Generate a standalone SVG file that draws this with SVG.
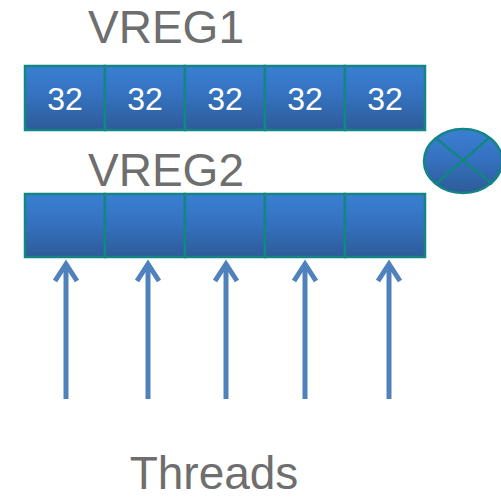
<svg xmlns="http://www.w3.org/2000/svg" width="501" height="499" viewBox="0 0 501 499">
<defs>
<linearGradient id="g" x1="0" y1="0" x2="0" y2="1">
<stop offset="0" stop-color="#3a7fd2"/>
<stop offset="0.45" stop-color="#3572c0"/>
<stop offset="1" stop-color="#2d5b98"/>
</linearGradient>
</defs>
<style>
.cell{fill:url(#g);stroke:#138584;stroke-width:2.5}
.lbl{font-family:"Liberation Sans",Arial,sans-serif;font-size:46px;fill:#6e6e6e;text-anchor:middle}
.num{font-family:"Liberation Sans",Arial,sans-serif;font-size:32px;fill:#ffffff;text-anchor:middle}
.arr{stroke:#4f81bd;stroke-width:5;fill:none}
.head{stroke:#4f81bd;stroke-width:5;fill:none;stroke-linejoin:miter}
</style>
<text class="lbl" x="166" y="43">VREG1</text>
<g id="vreg1">
<rect class="cell" x="25" y="66" width="80" height="64"/>
<rect class="cell" x="105" y="66" width="80" height="64"/>
<rect class="cell" x="185" y="66" width="80" height="64"/>
<rect class="cell" x="265" y="66" width="80" height="64"/>
<rect class="cell" x="345" y="66" width="80" height="64"/>
<text class="num" x="65" y="110">32</text>
<text class="num" x="145" y="110">32</text>
<text class="num" x="225" y="110">32</text>
<text class="num" x="305" y="110">32</text>
<text class="num" x="385" y="110">32</text>
</g>
<g id="op">
<ellipse cx="463" cy="161" rx="39" ry="32" fill="url(#g)" stroke="#138584" stroke-width="2.5"/>
<line x1="437" y1="139" x2="492" y2="184" stroke="#138584" stroke-width="2.5"/>
<line x1="489" y1="138" x2="436" y2="184" stroke="#138584" stroke-width="2.5"/>
</g>
<text class="lbl" x="166" y="186">VREG2</text>
<g id="vreg2">
<rect class="cell" x="25" y="194" width="80" height="63"/>
<rect class="cell" x="105" y="194" width="80" height="63"/>
<rect class="cell" x="185" y="194" width="80" height="63"/>
<rect class="cell" x="265" y="194" width="80" height="63"/>
<rect class="cell" x="345" y="194" width="80" height="63"/>
</g>
<g id="connectors">
<line class="arr" x1="66" y1="399" x2="66" y2="264"/>
<path class="head" d="M55,281 L66,264 L77,281"/>
<line class="arr" x1="148" y1="399" x2="148" y2="264"/>
<path class="head" d="M137,281 L148,264 L159,281"/>
<line class="arr" x1="226" y1="399" x2="226" y2="264"/>
<path class="head" d="M215,281 L226,264 L237,281"/>
<line class="arr" x1="305" y1="399" x2="305" y2="264"/>
<path class="head" d="M294,281 L305,264 L316,281"/>
<line class="arr" x1="389" y1="399" x2="389" y2="264"/>
<path class="head" d="M378,281 L389,264 L400,281"/>
</g>
<text class="lbl" x="214" y="489">Threads</text>
</svg>
